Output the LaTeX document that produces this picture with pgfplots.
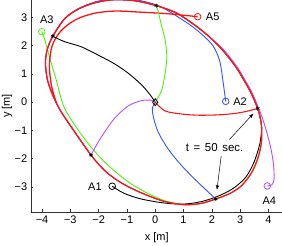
\documentclass[border=0pt]{standalone}
\usepackage{fontspec}
\setmainfont{Liberation Sans}
\usepackage{pgfplots}
\pgfplotsset{compat=1.18}
\usetikzlibrary{arrows.meta}
\definecolor{cr}{rgb}{1,0.08,0.08}
\definecolor{cb}{rgb}{0.2,0.33,1}
\definecolor{cg}{rgb}{0.3,0.95,0.05}
\definecolor{cp}{rgb}{0.72,0.3,1}
\begin{document}
\fontsize{11}{13}\selectfont
\begin{tikzpicture}
\begin{axis}[at={(31pt,34pt)}, anchor=south west, scale only axis,
 width=251pt, height=212pt,
 xmin=-4.39, xmax=4.48, ymin=-3.88, ymax=3.61,
 axis lines=left, axis line style={-, line width=0.6pt, color=black!80},
 tick align=inside, major tick length=2.5pt, tick style={black!80, line width=0.6pt},
 xtick={-4,...,4}, ytick={-3,...,3},
 xticklabels={−4,−3,−2,−1,0,1,2,3,4}, yticklabels={−3,−2,−1,0,1,2,3},
 ticklabel style={font=\fontsize{11}{13}\selectfont},
 clip=false,
 every axis plot/.append style={line width=0.9pt, smooth},
]
% agent A1 (black)
\addplot[black, no marks] coordinates {(-1.52,-2.97) (-1.1,-3.22) (-0.5,-3.42) (0.3,-3.56) (1.0,-3.6) (1.6,-3.52) (2.2,-3.33) (2.75,-3.05) (3.2,-2.65) (3.5,-2.1) (3.7,-1.45) (3.76,-0.9) (3.7,-0.5) (3.62,-0.22) (3.4,0.3) (3.15,0.75) (2.84,1.26) (2.37,1.85) (1.9,2.32) (1.4,2.72) (0.75,3.15) (0.04,3.41) (-0.7,3.58) (-1.45,3.62) (-2.1,3.52) (-2.7,3.3) (-3.2,2.95) (-3.62,2.33)};
% agent A2 (blue)
\addplot[cb, no marks] coordinates {(2.49,0.03) (2.4,0.7) (2.28,1.45) (2.05,1.98) (1.7,2.35) (1.3,2.68) (0.9,2.95) (0.5,3.2) (0.04,3.44) (-0.7,3.62) (-1.45,3.66) (-2.1,3.55) (-2.7,3.31) (-3.2,2.95) (-3.62,2.33) (-3.82,1.85) (-3.88,1.35) (-3.8,0.75) (-3.6,0.2) (-3.35,-0.3) (-2.95,-0.9) (-2.27,-1.87) (-1.75,-2.45) (-1.2,-2.85) (-0.5,-3.2) (0.3,-3.5) (1.0,-3.62) (1.6,-3.58) (2.14,-3.42)};
% agent A3 (green)
\addplot[cg, no marks] coordinates {(-4.01,2.49) (-3.9,2.2) (-3.74,1.61) (-3.5,0.79) (-3.24,-0.13) (-2.85,-0.8) (-2.3,-1.55) (-1.7,-2.2) (-1.0,-2.78) (-0.4,-3.15) (0.3,-3.47) (1.0,-3.62) (1.6,-3.58) (2.14,-3.42) (2.65,-3.22) (3.05,-2.95) (3.4,-2.5) (3.62,-2.0) (3.75,-1.45) (3.76,-0.9) (3.7,-0.5) (3.62,-0.22) (3.4,0.3) (3.15,0.75) (2.84,1.26) (2.37,1.85) (1.9,2.32) (1.4,2.72) (0.75,3.15) (0.04,3.41)};
% agent A4 (purple)
\addplot[cp, no marks] coordinates {(3.96,-2.96) (4.12,-2.92) (4.2,-2.72) (4.18,-2.2) (4.1,-1.7) (3.98,-1.2) (3.84,-0.72) (3.67,-0.25) (3.44,0.3) (3.18,0.77) (2.87,1.28) (2.4,1.87) (1.9,2.32) (1.4,2.72) (0.75,3.15) (0.04,3.41) (-0.7,3.58) (-1.45,3.62) (-2.1,3.52) (-2.7,3.3) (-3.2,2.95) (-3.62,2.33) (-3.82,1.85) (-3.88,1.35) (-3.8,0.75) (-3.6,0.2) (-3.35,-0.3) (-2.95,-0.9) (-2.27,-1.87)};
% agent A5 (red)
\addplot[cr, no marks, line width=1.3pt] coordinates {(1.5,3.02) (0.5,3.12) (-0.5,3.18) (-1.42,3.22) (-2.1,3.15) (-2.62,3.0) (-3.0,2.8) (-3.33,2.52) (-3.55,2.2) (-3.68,1.85) (-3.74,1.26) (-3.67,0.6) (-3.5,0.0) (-3.3,-0.38) (-2.95,-0.9) (-2.27,-1.87) (-1.75,-2.45) (-1.2,-2.85) (-0.5,-3.2) (0.3,-3.5) (1.0,-3.62) (1.6,-3.58) (2.14,-3.42) (2.65,-3.22) (3.05,-2.95) (3.4,-2.5) (3.62,-2.0) (3.75,-1.45) (3.76,-0.9) (3.7,-0.5) (3.62,-0.22) (3.4,0.3) (3.15,0.75) (2.84,1.26) (2.37,1.85) (1.9,2.32) (1.4,2.72) (0.75,3.15) (0.04,3.41) (-0.7,3.58) (-1.45,3.62) (-2.1,3.52) (-2.7,3.3) (-3.2,2.95) (-3.62,2.33) (-3.82,1.85) (-3.88,1.35) (-3.8,0.75) (-3.6,0.2) (-3.35,-0.3) (-2.95,-0.9) (-2.27,-1.87) (-1.75,-2.45) (-1.2,-2.85) (-0.5,-3.2) (0.3,-3.5) (1.0,-3.62) (1.6,-3.58) (2.14,-3.42) (2.65,-3.22) (3.05,-2.95) (3.4,-2.5) (3.62,-2.0) (3.75,-1.45) (3.76,-0.9) (3.7,-0.5) (3.62,-0.22)};
% reference curves from centre
\addplot[black, no marks] coordinates {(0,0) (-0.18,0.26) (-0.48,0.61) (-0.95,1.02) (-1.43,1.35) (-2.03,1.67) (-2.62,1.96) (-3.21,2.14) (-3.62,2.33)};
\addplot[cb, no marks] coordinates {(0,0) (-0.1,-0.2) (-0.06,-0.55) (0.11,-1.07) (0.46,-1.66) (0.94,-2.25) (1.52,-2.84) (2.14,-3.42)};
\addplot[cg, no marks] coordinates {(0,0) (0.23,0.43) (0.35,1.02) (0.41,1.61) (0.35,2.2) (0.23,2.67) (0.09,3.26) (0.04,3.41)};
\addplot[cp, no marks] coordinates {(0,0) (-0.15,0.07) (-0.5,0.05) (-0.95,-0.13) (-1.42,-0.55) (-1.8,-1.07) (-2.09,-1.54) (-2.27,-1.87)};
\addplot[cr, no marks, line width=1.1pt] coordinates {(0,0) (0.35,-0.31) (0.94,-0.42) (1.52,-0.46) (2.2,-0.45) (2.8,-0.4) (3.25,-0.32) (3.62,-0.22)};
% start markers
\addplot[black, only marks, mark=o, mark size=3.3pt, line width=0.8pt] coordinates {(-1.52,-2.97)};
\addplot[cb, only marks, mark=o, mark size=3.3pt, line width=0.8pt] coordinates {(2.49,0.03)};
\addplot[cg, only marks, mark=o, mark size=3.3pt, line width=0.8pt] coordinates {(-4.01,2.49)};
\addplot[cp, only marks, mark=o, mark size=3.3pt, line width=0.8pt] coordinates {(3.96,-2.96)};
\addplot[cr, only marks, mark=o, mark size=3.3pt, line width=0.8pt] coordinates {(1.5,3.02)};
% end markers
\addplot[black, only marks, mark=asterisk, mark size=2pt, line width=0.6pt] coordinates {(-3.62,2.33) (0.04,3.41) (3.62,-0.22) (2.14,-3.42) (-2.27,-1.87)};
\addplot[black, only marks, mark=diamond, mark size=3.5pt, line width=0.8pt] coordinates {(0,0)};
% labels
\node at (axis cs:-2.13,-2.97) {A1};
\node at (axis cs:3.0,0.03) {A2};
\node at (axis cs:-3.83,2.93) {A3};
\node at (axis cs:4.03,-3.49) {A4};
\node at (axis cs:2.03,3.0) {A5};
\node[font=\fontsize{11.5}{13}\selectfont] at (axis cs:2.1,-1.6) {t\hspace{0.4em}=\hspace{0.4em}50\hspace{0.4em}sec.};
\draw[-{Latex[length=4.5pt,width=3.5pt]}, line width=0.5pt] (axis cs:2.62,-1.32) -- (axis cs:3.47,-0.4);
\draw[-{Latex[length=4.5pt,width=3.5pt]}, line width=0.5pt] (axis cs:2.33,-1.91) -- (axis cs:2.18,-3.1);
\end{axis}
\node at (156.8pt,8.7pt) {x [m]};
\node[rotate=90] at (7pt,140pt) {y [m]};
\pgfresetboundingbox
\useasboundingbox (0,0) rectangle (282pt,246pt);
\end{tikzpicture}
\end{document}
